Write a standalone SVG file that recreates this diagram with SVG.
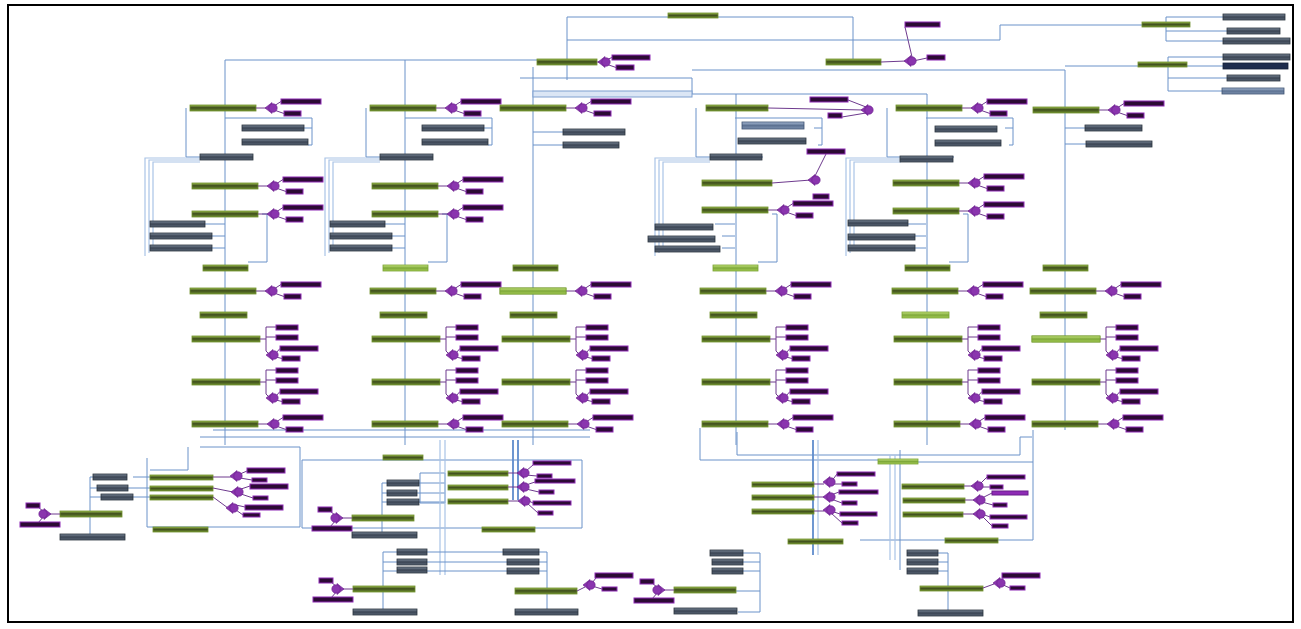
<svg xmlns="http://www.w3.org/2000/svg" width="1301" height="629" viewBox="0 0 1301 629">
<style>
.g{fill:url(#gg);stroke:#6f8f2c;stroke-width:.8}
.gb{fill:url(#gbr);stroke:#79a232;stroke-width:.8}
.s{fill:url(#sg);stroke:#2a323d;stroke-width:.8}
.s2{fill:url(#sg2);stroke:#3d5270;stroke-width:.8}
.s3{fill:#1f2d4d;stroke:#152038;stroke-width:.8}
.p{fill:#2c0a34;stroke:#8e2bb5;stroke-width:1}
.pb{fill:#8e2bb5;stroke:#6a1c8c;stroke-width:1}
.h{fill:#8a35ae;stroke:#6a1c8c;stroke-width:.6}
.pc{fill:none;stroke:#6e3a8e;stroke-width:1}
.c{fill:none;stroke:#6b92c9;stroke-width:1}
.cl{fill:none;stroke:#a9c3e6;stroke-width:1.2}
.ct{fill:none;stroke:#5f8ccc;stroke-width:1.8}
</style>
<defs>
<linearGradient id="gg" x1="0" y1="0" x2="0" y2="1"><stop offset="0" stop-color="#9cbd4f"/><stop offset="0.45" stop-color="#3e4d1c"/><stop offset="1" stop-color="#6f8f30"/></linearGradient>
<linearGradient id="gbr" x1="0" y1="0" x2="0" y2="1"><stop offset="0" stop-color="#c8e680"/><stop offset="0.5" stop-color="#7ea83a"/><stop offset="1" stop-color="#a6cc55"/></linearGradient>
<linearGradient id="sg" x1="0" y1="0" x2="0" y2="1"><stop offset="0" stop-color="#7d8a9a"/><stop offset="0.5" stop-color="#3b4554"/><stop offset="1" stop-color="#5a6676"/></linearGradient>
<linearGradient id="sg2" x1="0" y1="0" x2="0" y2="1"><stop offset="0" stop-color="#a9bcd6"/><stop offset="0.5" stop-color="#5d7292"/><stop offset="1" stop-color="#7d92b0"/></linearGradient>
<g id="hb"><path class="h" d="M-5,0L2,-5.5L2,5.5Z"/><circle class="h" cx="3" cy="0" r="4.2"/></g>
<g id="hbL"><path class="h" d="M5,0L-2,-5.5L-2,5.5Z"/><circle class="h" cx="-3" cy="0" r="4.2"/></g>
<g id="rh">
<rect class="g" x="0" y="-3" width="66" height="6"/>
<path class="pc" d="M66,0H76M84,-2L91,-6.5M84,2L94,5.5"/>
<use href="#hb" x="80" y="0"/>
<rect class="p" x="91" y="-9" width="40" height="5"/>
<rect class="p" x="94" y="3" width="17" height="5"/>
</g>
<g id="rb">
<rect class="g" x="0" y="-3" width="68" height="6"/>
<path class="pc" d="M68,0H74M74,-12V12M74,-12H84M74,-2H84M74,12L77,15M84,14L88,9.5M84,18L90,19.5"/>
<use href="#hb" x="79" y="16"/>
<rect class="p" x="84" y="-14" width="22" height="5"/>
<rect class="p" x="84" y="-4" width="22" height="5"/>
<rect class="p" x="88" y="7" width="38" height="5"/>
<rect class="p" x="90" y="17" width="18" height="5"/>
</g>
<g id="rhL">
<rect class="g" x="0" y="-3" width="62" height="6"/>
<path class="pc" d="M0,0H-10M-16,-2L-22,-7M-16,2L-22,9"/>
<use href="#hbL" x="-14" y="0"/>
<rect class="p" x="-34" y="-11" width="14" height="5"/>
<rect class="p" x="-40" y="8" width="40" height="5"/>
</g>
<g id="uc">
<path class="c" d="M225,118H312V145H308M312,128H304M186,108V157H200M253,157H225M205,224H225M212,236H225M212,248H225M262,214H267V262H248"/>
<path class="cl" d="M200,158H145V256M200,160H149V253M200,162H153V250"/>
</g>
</defs>
<rect x="0" y="0" width="1301" height="629" fill="#fff"/>
<rect x="8" y="5" width="1285" height="617" fill="none" stroke="#000" stroke-width="2"/>

<g id="connectors">
<path class="c" d="M225,60H537M225,60V445M405,60V445M533,67V445M736,94V445M927,94V445M1065,70V430"/>
<path class="c" d="M567,80V17H668M718,17H853V59M567,40H1000V25H1142M520,78H692V94M692,70H1065M1065,66H1138M692,94H927"/>
<rect x="533" y="91" width="159" height="6" fill="#dbe6f5" stroke="#7fa0cf" stroke-width="1"/>
<path class="c" d="M1190,25H1166V17H1223M1166,25V31H1227M1166,31V41H1223M1187,65H1168V57H1223M1168,65V66H1223M1168,66V91H1222M1168,78H1227"/>
<path class="c" d="M533,132H563M533,145H563M1065,128H1085M1065,144H1086"/>
<use href="#uc"/>
<use href="#uc" transform="translate(180,0)"/>
<use href="#uc" transform="translate(510,0)"/>
<use href="#uc" transform="translate(701,0)"/>
<path class="c" d="M213,430H590M200,437H590M200,447H300M147,458V527H300V447M188,447V470H150M133,477H150M128,488H150M133,497H150M93,477H90V537M97,488H90M101,497H90"/>
<path class="c" d="M302,460H582V528H302ZM420,473H445V503H420ZM419,483H445M417,493H445M419,502H445M387,483H382V533M382,493H387M382,502H387"/>
<path class="cl" d="M440,440V575M445,440V575"/>
<path class="ct" d="M513,440V500M518,440V500"/>
<path class="c" d="M427,552H503M427,562H507M427,571H507M383,552V611M383,552H397M383,562H397M383,571H397M547,552V612M539,552H547M539,562H547M539,571H547M547,591H577M547,612H578"/>
<path class="c" d="M700,428V460H880M737,432V455H1020V437H1032M890,462H1033V540H860M1033,462V430M743,553H760V612H738M741,562H760M741,571H760M736,591H760M938,553H948V612M938,562H948M938,571H948M948,589H920"/>
<path class="ct" d="M813,440V555"/>
<path class="cl" d="M818,440V555M890,455V560M895,455V560"/>
<path class="c" d="M900,450V570"/>
</g>

<g id="t-15"><rect class="g" x="668" y="13" width="50" height="5"/></g>
<g id="t-62">
<rect class="g" x="537" y="59" width="60" height="6"/>
<path class="pc" d="M597,62H601M606,60L612,57.5M606,64L616,67.5"/>
<use href="#hb" x="603" y="62"/>
<rect class="p" x="612" y="55" width="38" height="5"/>
<rect class="p" x="616" y="65" width="18" height="5"/>
</g>
<g id="t-62b">
<rect class="g" x="826" y="59" width="55" height="6"/>
<path class="pc" d="M881,62L906,61M912,57L905,27M913,61L927,58"/>
<use href="#hb" x="909" y="61"/>
<rect class="p" x="905" y="22" width="35" height="5"/>
<rect class="p" x="927" y="55" width="18" height="5"/>
</g>
<g id="t-25"><rect class="g" x="1142" y="22" width="48" height="5"/></g>
<g id="t-65"><rect class="g" x="1138" y="62" width="49" height="5"/></g>
<g id="t-s1"><rect class="s" x="1223" y="14" width="62" height="6"/></g>
<g id="t-s2"><rect class="s" x="1227" y="28" width="53" height="6"/></g>
<g id="t-s3"><rect class="s" x="1223" y="38" width="67" height="6"/></g>
<g id="t-s4"><rect class="s" x="1223" y="54" width="67" height="6"/></g>
<g id="t-s5"><rect class="s3" x="1223" y="63" width="65" height="6"/></g>
<g id="t-s6"><rect class="s" x="1227" y="75" width="53" height="6"/></g>
<g id="t-s7"><rect class="s2" x="1222" y="88" width="62" height="6"/></g>

<g id="a-108"><use href="#rh" x="190" y="108"/></g>
<g id="a-128"><rect class="s" x="242" y="125" width="62" height="6"/></g>
<g id="a-142"><rect class="s" x="242" y="139" width="66" height="6"/></g>
<g id="a-157"><rect class="s" x="200" y="154" width="53" height="6"/></g>
<g id="a-186"><use href="#rh" x="192" y="186"/></g>
<g id="a-214"><use href="#rh" x="192" y="214"/></g>
<g id="a-224"><rect class="s" x="150" y="221" width="55" height="6"/></g>
<g id="a-236"><rect class="s" x="150" y="233" width="62" height="6"/></g>
<g id="a-248"><rect class="s" x="150" y="245" width="62" height="6"/></g>
<g id="a-268"><rect class="g" x="203" y="265" width="45" height="6"/></g>
<g id="a-291"><use href="#rh" x="190" y="291"/></g>
<g id="a-315"><rect class="g" x="200" y="312" width="47" height="6"/></g>
<g id="a-339"><use href="#rb" x="192" y="339"/></g>
<g id="a-382"><use href="#rb" x="192" y="382"/></g>
<g id="a-424"><use href="#rh" x="192" y="424"/></g>

<g id="b-108"><use href="#rh" x="370" y="108"/></g>
<g id="b-128"><rect class="s" x="422" y="125" width="62" height="6"/></g>
<g id="b-142"><rect class="s" x="422" y="139" width="66" height="6"/></g>
<g id="b-157"><rect class="s" x="380" y="154" width="53" height="6"/></g>
<g id="b-186"><use href="#rh" x="372" y="186"/></g>
<g id="b-214"><use href="#rh" x="372" y="214"/></g>
<g id="b-224"><rect class="s" x="330" y="221" width="55" height="6"/></g>
<g id="b-236"><rect class="s" x="330" y="233" width="62" height="6"/></g>
<g id="b-248"><rect class="s" x="330" y="245" width="62" height="6"/></g>
<g id="b-268"><rect class="gb" x="383" y="265" width="45" height="6"/></g>
<g id="b-291"><use href="#rh" x="370" y="291"/></g>
<g id="b-315"><rect class="g" x="380" y="312" width="47" height="6"/></g>
<g id="b-339"><use href="#rb" x="372" y="339"/></g>
<g id="b-382"><use href="#rb" x="372" y="382"/></g>
<g id="b-424"><use href="#rh" x="372" y="424"/></g>

<g id="c-108"><use href="#rh" x="500" y="108"/></g>
<g id="c-132"><rect class="s" x="563" y="129" width="62" height="6"/></g>
<g id="c-145"><rect class="s" x="563" y="142" width="56" height="6"/></g>
<g id="c-268"><rect class="g" x="513" y="265" width="45" height="6"/></g>
<g id="c-291"><use href="#rh" x="500" y="291"/><rect class="gb" x="500" y="288" width="66" height="6"/></g>
<g id="c-315"><rect class="g" x="510" y="312" width="47" height="6"/></g>
<g id="c-339"><use href="#rb" x="502" y="339"/></g>
<g id="c-382"><use href="#rb" x="502" y="382"/></g>
<g id="c-424"><use href="#rh" x="502" y="424"/></g>

<g id="d-108">
<rect class="g" x="706" y="105" width="62" height="6"/>
<path class="pc" d="M768,108L864,110M848,100L866,107M866,113L842,117"/>
<use href="#hb" x="866" y="110"/>
<rect class="p" x="810" y="97" width="38" height="5"/>
<rect class="p" x="828" y="113" width="14" height="5"/>
</g>
<g id="d-125"><rect class="s2" x="742" y="122" width="62" height="7"/></g>
<g id="d-141"><rect class="s" x="738" y="138" width="68" height="6"/></g>
<g id="d-157"><rect class="s" x="710" y="154" width="52" height="6"/></g>
<g id="d-182">
<rect class="g" x="702" y="180" width="70" height="6"/>
<path class="pc" d="M772,183L811,180M815,176L826,154"/>
<use href="#hb" x="813" y="180"/>
<rect class="p" x="807" y="149" width="38" height="5"/>
</g>
<g id="d-210"><use href="#rh" x="702" y="210"/><rect class="p" x="813" y="194" width="16" height="5"/></g>
<g id="d-227"><rect class="s" x="655" y="224" width="58" height="6"/></g>
<g id="d-239"><rect class="s" x="648" y="236" width="67" height="6"/></g>
<g id="d-249"><rect class="s" x="655" y="246" width="65" height="6"/></g>
<g id="d-268"><rect class="gb" x="713" y="265" width="45" height="6"/></g>
<g id="d-291"><use href="#rh" x="700" y="291"/></g>
<g id="d-315"><rect class="g" x="710" y="312" width="47" height="6"/></g>
<g id="d-339"><use href="#rb" x="702" y="339"/></g>
<g id="d-382"><use href="#rb" x="702" y="382"/></g>
<g id="d-424"><use href="#rh" x="702" y="424"/></g>

<g id="e-108"><use href="#rh" x="896" y="108"/></g>
<g id="e-129"><rect class="s" x="935" y="126" width="62" height="6"/></g>
<g id="e-143"><rect class="s" x="935" y="140" width="66" height="6"/></g>
<g id="e-159"><rect class="s" x="900" y="156" width="53" height="6"/></g>
<g id="e-183"><use href="#rh" x="893" y="183"/></g>
<g id="e-211"><use href="#rh" x="893" y="211"/></g>
<g id="e-223"><rect class="s" x="848" y="220" width="60" height="6"/></g>
<g id="e-237"><rect class="s" x="848" y="234" width="67" height="6"/></g>
<g id="e-247"><rect class="s" x="848" y="245" width="67" height="6"/></g>
<g id="e-268"><rect class="g" x="905" y="265" width="45" height="6"/></g>
<g id="e-291"><use href="#rh" x="892" y="291"/></g>
<g id="e-315"><rect class="gb" x="902" y="312" width="47" height="6"/></g>
<g id="e-339"><use href="#rb" x="894" y="339"/></g>
<g id="e-382"><use href="#rb" x="894" y="382"/></g>
<g id="e-424"><use href="#rh" x="894" y="424"/></g>

<g id="f-110"><use href="#rh" x="1033" y="110"/></g>
<g id="f-128"><rect class="s" x="1085" y="125" width="57" height="6"/></g>
<g id="f-144"><rect class="s" x="1086" y="141" width="66" height="6"/></g>
<g id="f-268"><rect class="g" x="1043" y="265" width="45" height="6"/></g>
<g id="f-291"><use href="#rh" x="1030" y="291"/></g>
<g id="f-315"><rect class="g" x="1040" y="312" width="47" height="6"/></g>
<g id="f-339"><use href="#rb" x="1032" y="339"/><rect class="gb" x="1032" y="336" width="68" height="6"/></g>
<g id="f-382"><use href="#rb" x="1032" y="382"/></g>
<g id="f-424"><use href="#rh" x="1032" y="424"/></g>

<g id="l-s1"><rect class="s" x="93" y="474" width="34" height="6"/></g>
<g id="l-s2"><rect class="s" x="97" y="485" width="31" height="6"/></g>
<g id="l-s3"><rect class="s" x="101" y="494" width="32" height="6"/></g>
<g id="l-b1"><rect class="g" x="150" y="475" width="63" height="5"/><path class="pc" d="M213,477H232M240,474L247,471M240,478L252,480"/><use href="#hb" x="235" y="476"/><rect class="p" x="247" y="468" width="38" height="5"/><rect class="p" x="252" y="478" width="15" height="4"/></g>
<g id="l-b2"><rect class="g" x="150" y="486" width="63" height="5"/><path class="pc" d="M213,488L233,492M241,489L250,486M241,494L253,498"/><use href="#hb" x="236" y="492"/><rect class="p" x="250" y="484" width="38" height="5"/><rect class="p" x="253" y="496" width="15" height="4"/></g>
<g id="l-b3"><rect class="g" x="150" y="495" width="63" height="5"/><path class="pc" d="M213,497L228,508M236,505L245,507M236,510L243,515"/><use href="#hb" x="231" y="508"/><rect class="p" x="245" y="505" width="38" height="5"/><rect class="p" x="243" y="513" width="17" height="4"/></g>
<g id="l-514"><use href="#rhL" x="60" y="514"/></g>
<g id="l-537"><rect class="s" x="60" y="534" width="65" height="6"/></g>
<g id="l-530"><rect class="g" x="153" y="527" width="55" height="5"/></g>

<g id="m-457"><rect class="g" x="383" y="455" width="40" height="5"/></g>
<g id="m-s1"><rect class="s" x="387" y="480" width="32" height="6"/></g>
<g id="m-s2"><rect class="s" x="387" y="490" width="30" height="6"/></g>
<g id="m-s3"><rect class="s" x="387" y="499" width="32" height="6"/></g>
<g id="m-b1"><rect class="g" x="448" y="471" width="60" height="5"/><path class="pc" d="M508,473H519M526,471L533,465M526,475L537,476"/><use href="#hb" x="522" y="473"/><rect class="p" x="533" y="461" width="38" height="4"/><rect class="p" x="537" y="474" width="15" height="4"/></g>
<g id="m-b2"><rect class="g" x="448" y="485" width="60" height="5"/><path class="pc" d="M508,487H519M526,485L535,482M526,489L539,492"/><use href="#hb" x="522" y="487"/><rect class="p" x="535" y="479" width="40" height="4"/><rect class="p" x="539" y="490" width="15" height="4"/></g>
<g id="m-b3"><rect class="g" x="448" y="499" width="60" height="5"/><path class="pc" d="M508,501H520M527,500L533,503M527,503L538,513"/><use href="#hb" x="523" y="501"/><rect class="p" x="533" y="501" width="38" height="4"/><rect class="p" x="538" y="511" width="15" height="4"/></g>
<g id="m-518"><use href="#rhL" x="352" y="518"/></g>
<g id="m-535"><rect class="s" x="352" y="532" width="65" height="6"/></g>
<g id="m-530"><rect class="g" x="482" y="527" width="53" height="5"/></g>

<g id="bc-s1"><rect class="s" x="397" y="549" width="30" height="6"/></g>
<g id="bc-s2"><rect class="s" x="397" y="559" width="30" height="6"/></g>
<g id="bc-s3"><rect class="s" x="397" y="567" width="30" height="6"/></g>
<g id="bc-s4"><rect class="s" x="503" y="549" width="36" height="6"/></g>
<g id="bc-s5"><rect class="s" x="507" y="559" width="32" height="6"/></g>
<g id="bc-s6"><rect class="s" x="507" y="568" width="32" height="6"/></g>
<g id="bc-589"><use href="#rhL" x="353" y="589"/></g>
<g id="bc-612"><rect class="s" x="353" y="609" width="64" height="6"/></g>
<g id="br-590"><rect class="g" x="515" y="588" width="62" height="6"/><path class="pc" d="M577,591L585,587M592,583L596,578M592,586L602,589"/><use href="#hb" x="588" y="585"/><rect class="p" x="595" y="573" width="38" height="5"/><rect class="p" x="602" y="587" width="15" height="4"/></g>
<g id="br-612"><rect class="s" x="515" y="609" width="63" height="6"/></g>

<g id="r2-b1"><rect class="g" x="752" y="482" width="62" height="5"/><path class="pc" d="M814,484H824M831,482L837,474M831,484L842,484"/><use href="#hb" x="828" y="482"/><rect class="p" x="837" y="472" width="38" height="4"/><rect class="p" x="842" y="482" width="15" height="4"/></g>
<g id="r2-b2"><rect class="g" x="752" y="495" width="62" height="5"/><path class="pc" d="M814,497H824M831,495L839,492M831,499L842,503"/><use href="#hb" x="828" y="497"/><rect class="p" x="839" y="490" width="39" height="4"/><rect class="p" x="842" y="501" width="15" height="4"/></g>
<g id="r2-b3"><rect class="g" x="752" y="509" width="62" height="5"/><path class="pc" d="M814,511H824M831,511L840,514M831,513L842,523"/><use href="#hb" x="828" y="510"/><rect class="p" x="840" y="512" width="37" height="4"/><rect class="p" x="842" y="521" width="16" height="4"/></g>
<g id="r2-541"><rect class="g" x="788" y="539" width="55" height="5"/></g>
<g id="r2-s1"><rect class="s" x="710" y="550" width="33" height="6"/></g>
<g id="r2-s2"><rect class="s" x="712" y="559" width="31" height="6"/></g>
<g id="r2-s3"><rect class="s" x="712" y="568" width="31" height="6"/></g>
<g id="r2-590"><use href="#rhL" x="674" y="590"/></g>
<g id="r2-611"><rect class="s" x="674" y="608" width="63" height="6"/></g>

<g id="r3-461"><rect class="gb" x="878" y="459" width="40" height="5"/></g>
<g id="r3-b1"><rect class="g" x="902" y="484" width="62" height="5"/><path class="pc" d="M964,486H972M980,484L987,477M980,487L990,487"/><use href="#hb" x="976" y="486"/><rect class="p" x="987" y="475" width="38" height="4"/><rect class="p" x="990" y="485" width="13" height="4"/></g>
<g id="r3-b2"><rect class="g" x="903" y="498" width="62" height="5"/><path class="pc" d="M965,500H974M982,498L992,493M982,502L993,505"/><use href="#hb" x="978" y="500"/><rect class="pb" x="992" y="491" width="36" height="4"/><rect class="p" x="993" y="503" width="14" height="4"/></g>
<g id="r3-b3"><rect class="g" x="903" y="512" width="60" height="5"/><path class="pc" d="M963,514H974M982,514L990,517M982,516L992,526"/><use href="#hb" x="978" y="514"/><rect class="p" x="990" y="515" width="37" height="4"/><rect class="p" x="992" y="524" width="16" height="4"/></g>
<g id="r3-540"><rect class="g" x="945" y="538" width="53" height="5"/></g>
<g id="r3-s1"><rect class="s" x="907" y="550" width="31" height="6"/></g>
<g id="r3-s2"><rect class="s" x="907" y="559" width="31" height="6"/></g>
<g id="r3-s3"><rect class="s" x="907" y="568" width="31" height="6"/></g>
<g id="r3-589"><rect class="g" x="920" y="586" width="63" height="5"/><path class="pc" d="M983,588L994,584M1001,581L1004,577M1001,584L1010,588"/><use href="#hb" x="998" y="583"/><rect class="p" x="1002" y="573" width="38" height="5"/><rect class="p" x="1010" y="586" width="15" height="4"/></g>
<g id="r3-612"><rect class="s" x="918" y="610" width="65" height="6"/></g>
</svg>
